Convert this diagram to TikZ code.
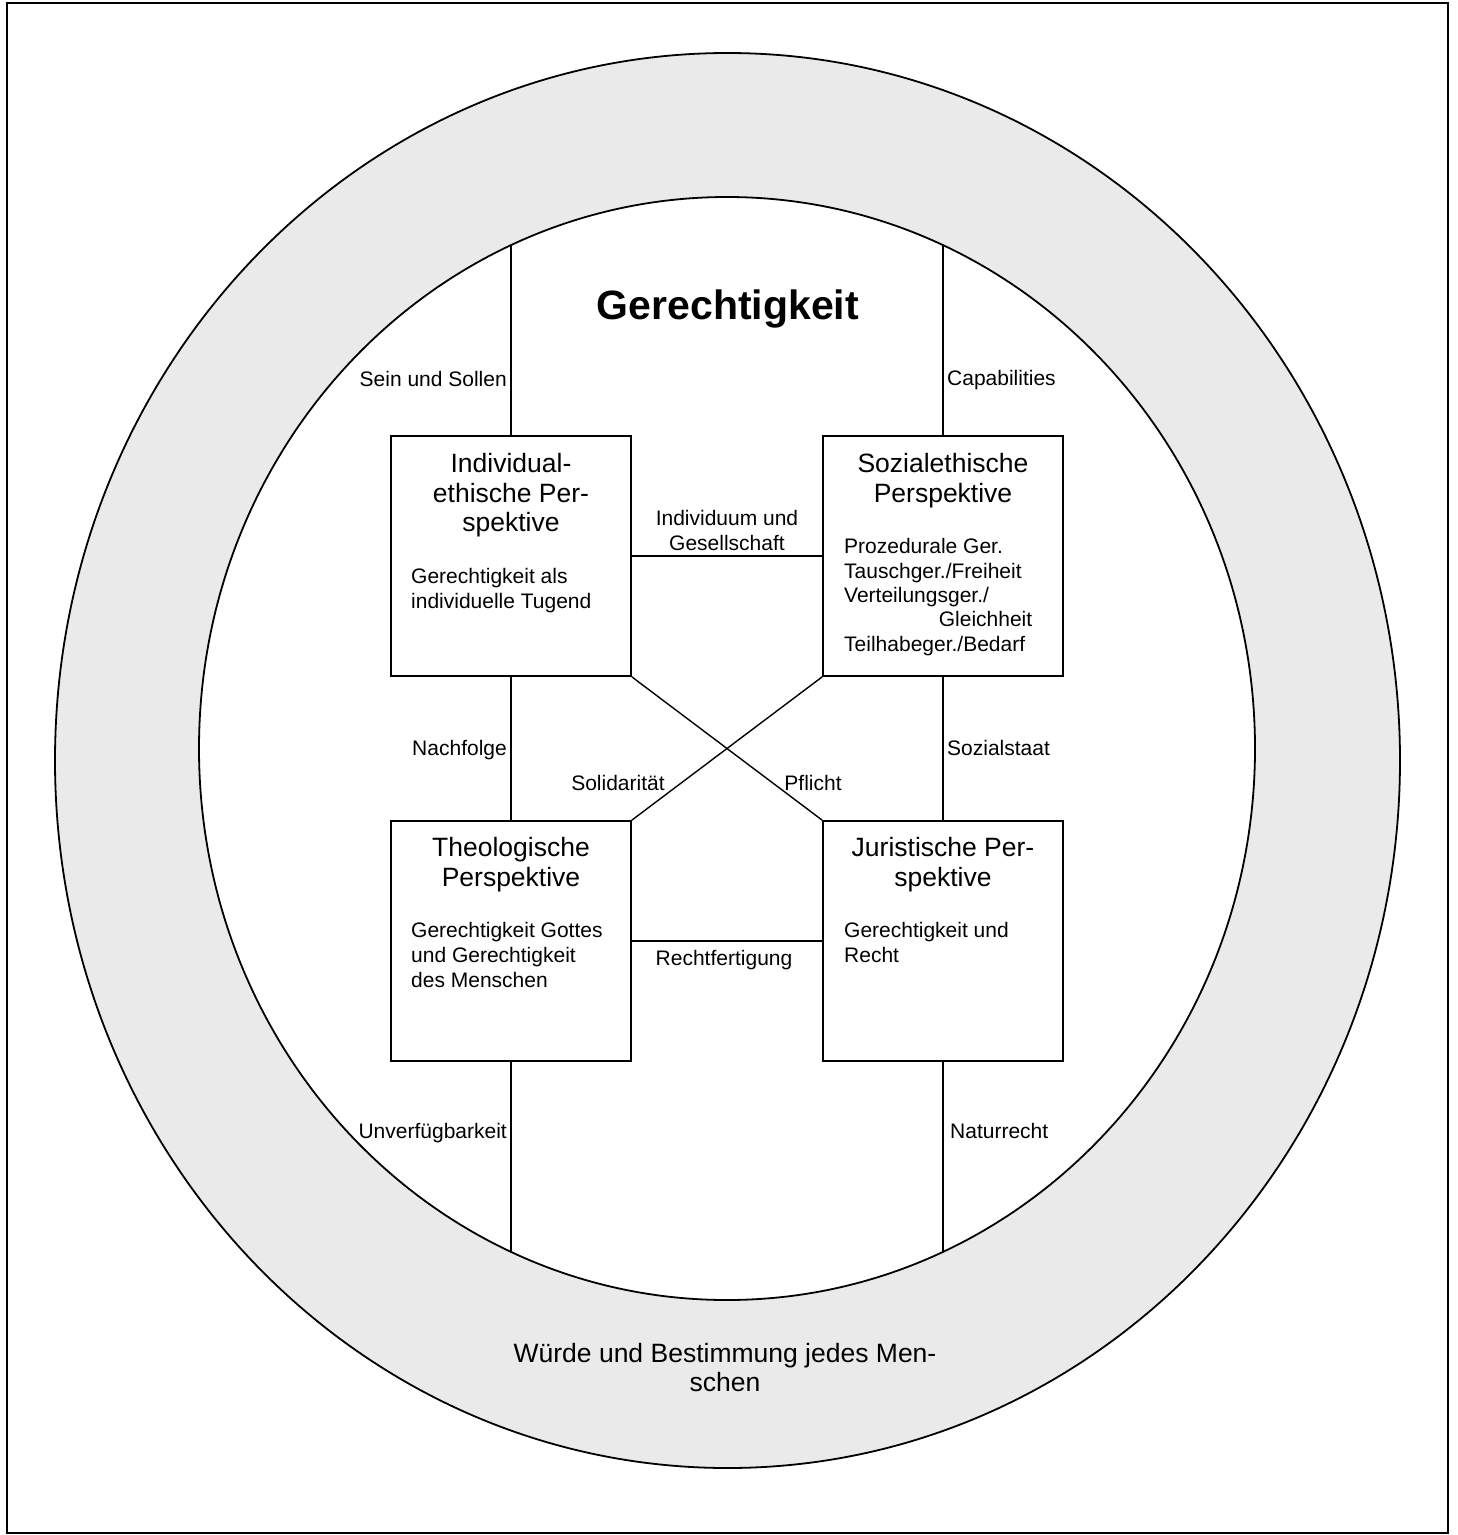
\documentclass[tikz,border=0pt]{standalone}
\usepackage{fontspec}
\setmainfont{Liberation Sans}
\definecolor{ringgray}{HTML}{EAEAEA}
\begin{document}
\begin{tikzpicture}[x=1pt,y=-1pt,
  persbox/.style={draw,line width=1.8pt,minimum width=240pt,minimum height=240pt,inner sep=0pt},
  conn/.style={line width=1.4pt},
  lab/.style={font=\fontsize{21}{25}\selectfont,inner sep=0pt},
  ttl/.style={font=\fontsize{26.5}{29.5}\selectfont,inner sep=0pt,align=center,anchor=north},
  sub/.style={font=\fontsize{21}{25}\selectfont,inner sep=0pt,align=left,anchor=north west},
]
\useasboundingbox (0,0) rectangle (1458,1535);
% frame
\draw[line width=2.2pt] (7,3) rectangle (1448,1533);
% ring
\draw[line width=1.8pt, fill=ringgray] (727.5,760.5) ellipse [x radius=672.5, y radius=707.5];
\draw[line width=1.8pt, fill=white] (727,748.5) ellipse [x radius=528, y radius=551.5];

% boxes
\node[persbox] (ind)  at (511,556) {};
\node[persbox] (soz)  at (943,556) {};
\node[persbox] (theo) at (511,941) {};
\node[persbox] (jur)  at (943,941) {};

% end points on inner ellipse
\coordinate (e1) at (511,245);
\coordinate (e2) at (943,245);
\coordinate (e3) at (511,1252);
\coordinate (e4) at (943,1252);

% connectors
\draw[conn] (e1) -- (ind.north);
\draw[conn] (e2) -- (soz.north);
\draw[conn] (ind.south) -- (theo.north);
\draw[conn] (soz.south) -- (jur.north);
\draw[conn] (theo.south) -- (e3);
\draw[conn] (jur.south) -- (e4);
\draw[conn] (ind.east) -- (soz.west);
\draw[conn] (theo.east) -- (jur.west);
\draw[conn] (ind.south east) -- (jur.north west);
\draw[conn] (soz.south west) -- (theo.north east);

% title
\node[font=\fontsize{41}{48}\selectfont\bfseries, inner sep=0pt, anchor=base] (title) at (728,319) {Gerechtigkeit};

% connector labels
\node[lab,anchor=base east] (l1) at (507,386) {Sein und Sollen};
\node[lab,anchor=base west] (l2) at (947,385) {Capabilities};
\node[lab,anchor=base east] (l3) at (507,755) {Nachfolge};
\node[lab,anchor=base west] (l4) at (947,755) {Sozialstaat};
\node[lab,anchor=base] (l5) at (618,790) {Solidarität};
\node[lab,anchor=base] (l6) at (813,790) {Pflicht};
\node[lab,anchor=base east] (l7) at (507,1138) {Unverfügbarkeit};
\node[lab,anchor=base west] (l8) at (950,1138) {Naturrecht};
\node[lab,align=center,anchor=north] (l9) at (727,510) {Individuum und\\Gesellschaft};
\node[lab,anchor=base] (l10) at (724,965) {Rechtfertigung};

% box titles
\node[ttl] (t1) at (511,453.5) {Individual-\\ethische Per-\\spektive};
\node[ttl] (t2) at (943,453.5) {Sozialethische\\Perspektive};
\node[ttl] (t3) at (511,837.5) {Theologische\\Perspektive};
\node[ttl] (t4) at (943,837.5) {Juristische Per-\\spektive};

% box contents
\node[sub] (s1) at (411,568.3) {Gerechtigkeit als\\individuelle Tugend};
\node[sub,font=\fontsize{21}{24.4}\selectfont] (s2) at (844,538.3) {Prozedurale Ger.\\Tauschger./Freiheit\\Verteilungsger./\\\makebox[188pt][r]{Gleichheit}\\Teilhabeger./Bedarf};
\node[sub] (s3) at (411,922) {Gerechtigkeit Gottes\\und Gerechtigkeit\\des Menschen};
\node[sub] (s4) at (844,922) {Gerechtigkeit und\\Recht};

% ring text
\node[ttl] (w) at (725,1343) {Würde und Bestimmung jedes Men-\\schen};
\end{tikzpicture}
\end{document}
